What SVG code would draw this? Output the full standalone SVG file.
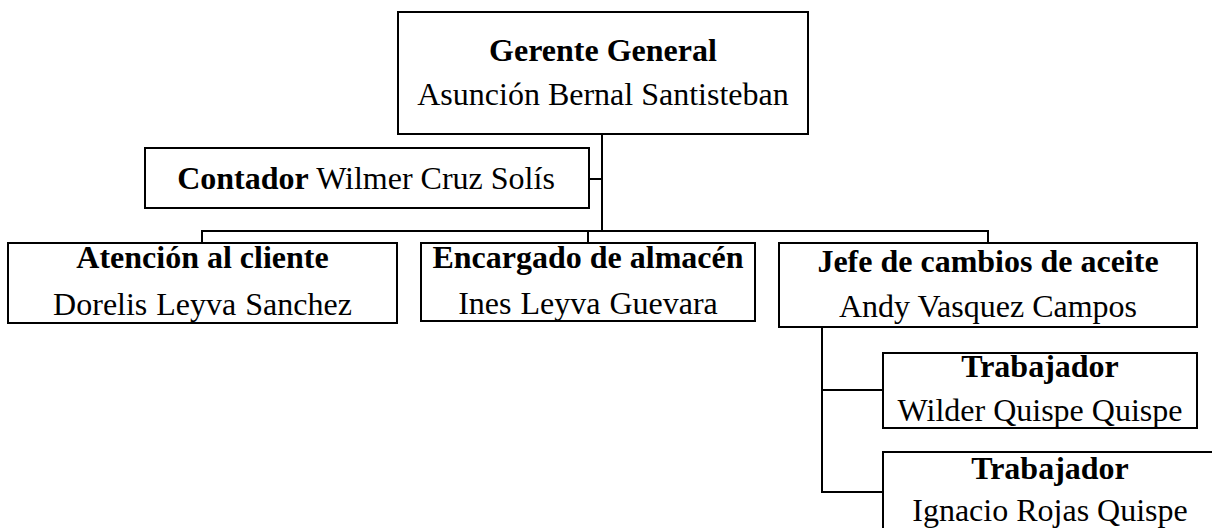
<svg xmlns="http://www.w3.org/2000/svg" width="1212" height="528" viewBox="0 0 1212 528">
<style>
.box{fill:#fff;stroke:#000;stroke-width:2}
.ln{fill:none;stroke:#000;stroke-width:2}
text{font-family:"Liberation Serif","Times New Roman",serif;font-size:32px;fill:#000;text-anchor:middle}
.b{font-weight:bold}
</style>
<rect width="1212" height="528" fill="#fff"/>
<g id="connectors">
<path class="ln" d="M602,134 V231"/>
<path class="ln" d="M589,179 H602"/>
<path class="ln" d="M202,243 V231 H988 V243"/>
<path class="ln" d="M588,231 V243"/>
<path class="ln" d="M822,327 V492 H883"/>
<path class="ln" d="M822,390 H883"/>
</g>
<g id="gerente">
<rect class="box" x="398" y="12" width="410" height="122"/>
<text x="603" y="61" class="b">Gerente General</text>
<text x="603" y="105">Asunción Bernal Santisteban</text>
</g>
<g id="contador">
<rect class="box" x="145" y="148" width="444" height="60"/>
<text x="366" y="189"><tspan class="b">Contador</tspan> Wilmer Cruz Solís</text>
</g>
<g id="atencion">
<rect class="box" x="8" y="243" width="389" height="80"/>
<text x="202.5" y="268" class="b">Atención al cliente</text>
<text x="202.5" y="315" word-spacing="1">Dorelis Leyva Sanchez</text>
</g>
<g id="almacen">
<rect class="box" x="421" y="243" width="334" height="78"/>
<text x="588" y="268" class="b">Encargado de almacén</text>
<text x="588" y="314" word-spacing="1">Ines Leyva Guevara</text>
</g>
<g id="jefe">
<rect class="box" x="779" y="243" width="418" height="84"/>
<text x="988" y="272" class="b">Jefe de cambios de aceite</text>
<text x="988" y="317">Andy Vasquez Campos</text>
</g>
<g id="trabajador1">
<rect class="box" x="883" y="353" width="314" height="75"/>
<text x="1040" y="377" class="b">Trabajador</text>
<text x="1040" y="421">Wilder Quispe Quispe</text>
</g>
<g id="trabajador2">
<rect class="box" x="883" y="452" width="335" height="90"/>
<text x="1050" y="479" class="b">Trabajador</text>
<text x="1050" y="521">Ignacio Rojas Quispe</text>
</g>
</svg>
